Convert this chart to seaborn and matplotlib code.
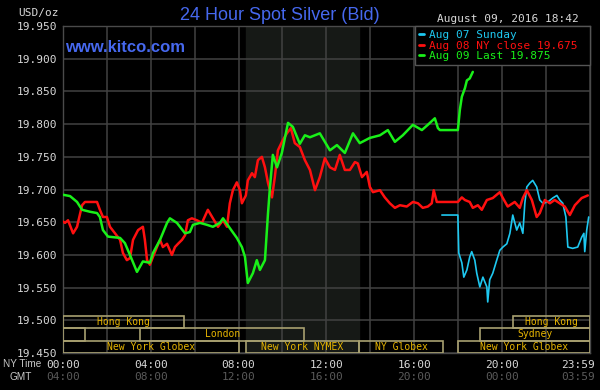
import seaborn as sns
import matplotlib.pyplot as plt
import matplotlib.transforms as mtransforms
from matplotlib.patches import Rectangle
from matplotlib.lines import Line2D
import pandas as pd

# Aug 09 (today) - green
green_hours = [0, 0.32, 0.64, 0.87, 1.23, 1.55, 1.68, 1.82, 2.05, 2.60, 2.82, 3.05, 3.37, 3.64,
               3.96, 4.10, 4.42, 4.74, 4.87, 5.19, 5.56, 5.78, 5.92, 6.24, 6.56, 6.83, 7.15, 7.29,
               7.60, 7.92, 8.15, 8.29, 8.42, 8.65, 8.83, 8.97, 9.20, 9.34, 9.43, 9.56, 9.75, 9.97,
               10.25, 10.47, 10.79, 11.02, 11.25, 11.70, 12.16, 12.48, 12.84, 13.21, 13.52, 13.98,
               14.44, 14.80, 15.12, 15.48, 15.94, 16.35, 16.62, 16.94, 17.08, 17.17, 17.99, 18.08,
               18.17, 18.31, 18.40, 18.53, 18.67]
green_prices = [19.692, 19.690, 19.681, 19.669, 19.666, 19.664, 19.658, 19.638, 19.628, 19.626,
                19.618, 19.600, 19.574, 19.590, 19.588, 19.603, 19.623, 19.649, 19.656, 19.649,
                19.633, 19.635, 19.646, 19.649, 19.646, 19.643, 19.649, 19.656, 19.641, 19.626,
                19.612, 19.597, 19.557, 19.572, 19.592, 19.577, 19.592, 19.664, 19.704, 19.753,
                19.734, 19.756, 19.802, 19.796, 19.770, 19.783, 19.780, 19.786, 19.760, 19.768,
                19.756, 19.786, 19.771, 19.779, 19.783, 19.791, 19.773, 19.783, 19.799, 19.791,
                19.799, 19.809, 19.794, 19.791, 19.791, 19.822, 19.842, 19.855, 19.867, 19.870,
                19.880]

# Aug 08 - red
red_hours = [0, 0.09, 0.23, 0.46, 0.64, 0.68, 0.87, 1.00, 1.55, 1.68, 1.82, 2.00, 2.14, 2.37,
             2.60, 2.73, 2.91, 3.05, 3.19, 3.42, 3.64, 3.73, 3.83, 3.96, 4.10, 4.28, 4.42, 4.55,
             4.74, 4.96, 5.10, 5.24, 5.42, 5.56, 5.69, 5.87, 6.10, 6.33, 6.60, 6.83, 7.06, 7.29,
             7.47, 7.60, 7.74, 7.92, 8.06, 8.15, 8.33, 8.42, 8.61, 8.74, 8.88, 9.06, 9.20, 9.34,
             9.52, 9.65, 9.79, 10.02, 10.20, 10.38, 10.56, 10.79, 11.02, 11.25, 11.48, 11.70,
             11.93, 12.16, 12.39, 12.61, 12.84, 13.07, 13.30, 13.43, 13.62, 13.84, 13.98, 14.12,
             14.44, 14.66, 14.89, 15.12, 15.35, 15.66, 15.94, 16.17, 16.39, 16.62, 16.80, 16.89,
             17.03, 17.99, 18.17, 18.31, 18.53, 18.67, 18.90, 19.08, 19.31, 19.58, 19.90, 20.04,
             20.26, 20.58, 20.81, 20.95, 21.13, 21.36, 21.58, 21.72, 21.95, 22.18, 22.40, 22.63,
             22.86, 23.09, 23.32, 23.63, 23.91]
red_prices = [19.651, 19.649, 19.653, 19.633, 19.643, 19.649, 19.676, 19.681, 19.681, 19.669,
              19.658, 19.658, 19.643, 19.633, 19.623, 19.603, 19.592, 19.595, 19.623, 19.638,
              19.643, 19.623, 19.592, 19.585, 19.597, 19.612, 19.623, 19.612, 19.617, 19.600,
              19.612, 19.617, 19.623, 19.630, 19.653, 19.656, 19.653, 19.649, 19.669, 19.656,
              19.643, 19.653, 19.643, 19.679, 19.699, 19.711, 19.699, 19.679, 19.691, 19.714,
              19.725, 19.719, 19.745, 19.750, 19.734, 19.710, 19.688, 19.719, 19.760, 19.776,
              19.786, 19.794, 19.771, 19.765, 19.745, 19.730, 19.699, 19.719, 19.748, 19.734,
              19.730, 19.753, 19.730, 19.730, 19.742, 19.740, 19.719, 19.727, 19.704, 19.696,
              19.699, 19.688, 19.679, 19.672, 19.676, 19.674, 19.681, 19.679, 19.672, 19.674,
              19.679, 19.699, 19.681, 19.681, 19.688, 19.684, 19.681, 19.672, 19.676, 19.669,
              19.684, 19.687, 19.696, 19.687, 19.674, 19.681, 19.672, 19.687, 19.699, 19.684,
              19.658, 19.664, 19.684, 19.679, 19.684, 19.679, 19.674, 19.661, 19.676, 19.687,
              19.691]

# Aug 07 Sunday - blue
blue_hours = [17.26, 17.99, 18.03, 18.17, 18.26, 18.40, 18.53, 18.62, 18.76, 18.85, 18.99,
              19.13, 19.31, 19.35, 19.44, 19.58, 19.76, 19.90, 20.04, 20.22, 20.36, 20.49, 20.67,
              20.81, 20.95, 21.04, 21.13, 21.27, 21.40, 21.58, 21.72, 21.86, 22.09, 22.31, 22.50,
              22.63, 22.77, 22.91, 23.00, 23.22, 23.45, 23.63, 23.73, 23.77, 23.86, 23.95]
blue_prices = [19.661, 19.661, 19.603, 19.588, 19.566, 19.577, 19.597, 19.605, 19.592, 19.572,
               19.551, 19.566, 19.551, 19.528, 19.562, 19.572, 19.592, 19.607, 19.612, 19.617,
               19.633, 19.661, 19.638, 19.649, 19.633, 19.679, 19.704, 19.710, 19.714, 19.704,
               19.684, 19.679, 19.681, 19.687, 19.691, 19.684, 19.679, 19.658, 19.612, 19.610,
               19.612, 19.627, 19.633, 19.605, 19.638, 19.658]

legend_labels = ['Aug 07 Sunday', 'Aug 08 NY close 19.675', 'Aug 09 Last 19.875']

# trading sessions (NY time hours), row 0 = top
session_names = ['Hong Kong', 'Hong Kong', '', 'London', 'Sydney',
                 'New York Globex', 'New York NYMEX', 'NY Globex', 'New York Globex']
session_start = [0, 20.5, 0, 3.5, 19.0, 0, 8.33, 13.5, 18.0]
session_end = [5.5, 24, 1.0, 11.0, 24, 8.0, 13.5, 17.33, 24]
session_row = [0, 0, 1, 1, 1, 2, 2, 2, 2]

ny_ticks = [0, 4, 8, 12, 16, 20, 24]
ny_labels = ['00:00', '04:00', '08:00', '12:00', '16:00', '20:00', '23:59']
gmt_labels = ['04:00', '08:00', '12:00', '16:00', '20:00', '00:00', '03:59']

sns.set_theme(style='dark', rc={'axes.facecolor': 'black', 'figure.facecolor': 'black'})
plt.rcParams['font.family'] = ['DejaVu Sans Mono', 'DejaVu Sans']

fig = plt.figure(figsize=(6, 3.9), dpi=100)
ax = fig.add_axes([0.105, 0.095, 0.878, 0.838])

ax.axvspan(8.33, 13.5, color='#161916', zorder=0)

series = [
    (blue_hours, blue_prices, '#1ec8f0', 1.2),
    (red_hours, red_prices, '#ff1010', 1.8),
    (green_hours, green_prices, '#19f019', 1.8),
]
for hrs, prices, color, lw in series:
    df = pd.DataFrame({'hour': hrs, 'price': prices})
    sns.lineplot(data=df, x='hour', y='price', color=color, linewidth=lw,
                 estimator=None, sort=False, ax=ax, zorder=3)

ax.set_xlim(0, 24)
ax.set_ylim(19.45, 19.95)
ax.set_xlabel('')
ax.set_ylabel('')

yt = [19.45 + 0.05 * i for i in range(11)]
ax.set_yticks(yt)
ax.set_yticklabels([f'{v:.3f}' for v in yt])
ax.set_xticks(ny_ticks)
ax.set_xticklabels(ny_labels)
ax.set_xticks([2, 6, 10, 14, 18, 22], minor=True)
ax.grid(True, which='both', color='#424242', linewidth=1.1, zorder=1)
ax.set_axisbelow(True)
ax.tick_params(axis='both', which='both', length=0, colors='#d8d8d8', labelsize=8)
ax.tick_params(axis='y', pad=4)
ax.tick_params(axis='x', pad=5)
last = ax.get_xticklabels()[-1]
last.set_ha('right')
last.set_transform(last.get_transform() + mtransforms.ScaledTranslation(0.05, 0, fig.dpi_scale_trans))
for s in ax.spines.values():
    s.set_color('#4a4a4a')
    s.set_linewidth(1)

for h, lab in zip(ny_ticks, gmt_labels):
    ha = 'right' if h == 24 else 'center'
    dx = 5 if h == 24 else 0
    ax.annotate(lab, xy=(h, 0), xycoords=('data', 'axes fraction'), xytext=(dx, -24),
                textcoords='offset pixels', ha=ha, va='center', color='#5a5a5a', fontsize=8)

# sessions
row_h = 0.019
for name, a, b, r in zip(session_names, session_start, session_end, session_row):
    y0 = 19.45 + (2 - r) * row_h
    ax.add_patch(Rectangle((a, y0), b - a, row_h, fill=False, edgecolor='#a8a070',
                           linewidth=1.2, zorder=4))
    if name:
        ax.text((a + b) / 2, y0 + row_h / 2, name, ha='center', va='center',
                color='#e6b400', fontsize=7, zorder=5)

# legend
colors = ['#1ec8f0', '#ff1010', '#19f019']
handles = [Line2D([], [], color=c, lw=2) for c in colors]
leg = ax.legend(handles, legend_labels, loc='upper left', bbox_to_anchor=(0.668, 0, 0.332, 1),
                mode='expand', borderaxespad=0,
                handlelength=0.5, handletextpad=0.4, labelspacing=0.05, borderpad=0.35,
                fancybox=False, framealpha=1, facecolor='black', edgecolor='#555555',
                labelcolor=colors, prop={'family': 'DejaVu Sans Mono', 'size': 8})
leg.get_frame().set_linewidth(1)
leg.set_zorder(6)

fig.text(0.5 * (176 + 383) / 600, 1 - 15 / 390, '24 Hour Spot Silver (Bid)', ha='center',
         va='center', color='#4668ee', fontsize=13, family='Liberation Sans')
fig.text(65 / 600, 1 - 47 / 390, 'www.kitco.com', ha='left', va='center', color='#4668ee',
         fontsize=12, fontweight='bold', family='Liberation Sans')
fig.text(18 / 600, 1 - 13 / 390, 'USD/oz', ha='left', va='center', color='#d8d8d8', fontsize=8)
fig.text(579 / 600, 1 - 19 / 390, 'August 09, 2016 18:42', ha='right', va='center',
         color='#d8d8d8', fontsize=8)
fig.text(3 / 600, 1 - 364 / 390, 'NY Time', ha='left', va='center', color='#c8c8c8',
         fontsize=7.2, family='Liberation Sans')
fig.text(10 / 600, 1 - 377 / 390, 'GMT', ha='left', va='center', color='#c8c8c8',
         fontsize=7.2, family='Liberation Sans')

fig.savefig('out.png', dpi=100, facecolor='black')
